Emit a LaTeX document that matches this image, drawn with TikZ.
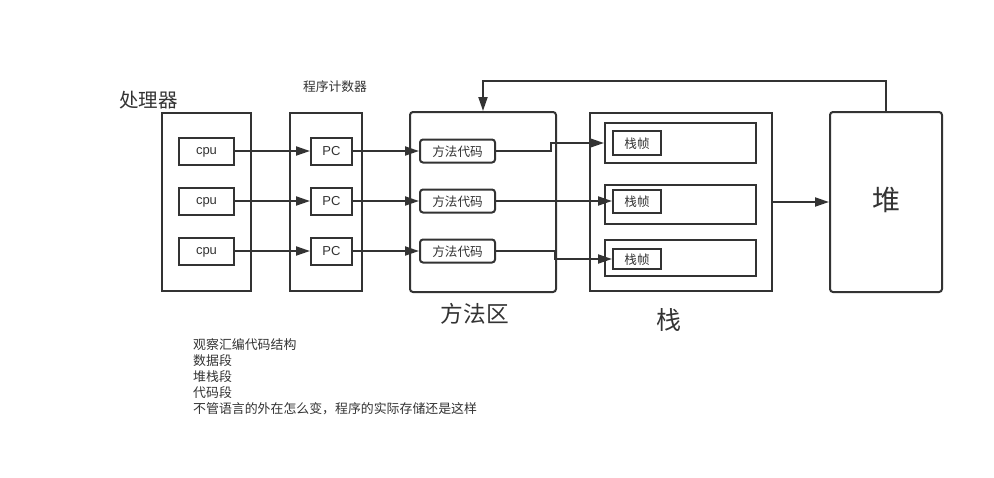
\documentclass[tikz,border=0pt]{standalone}
\usepackage{fontspec}
\setmainfont{Liberation Sans}
\newfontfamily\cjk{Noto Sans CJK SC}
\usetikzlibrary{arrows.meta}
\definecolor{ln}{HTML}{333333}
\tikzset{
  box/.style={draw=ln, line width=2pt, rectangle, inner sep=0pt},
  rbox/.style={box, rounded corners=3pt},
  arr/.style={draw=ln, line width=2pt, -{Triangle[length=14pt,width=9pt]}},
  lbl/.style={inner sep=0pt, text=ln},
  lat/.style={font=\fontsize{13}{13}\selectfont, text=ln, text depth=0pt},
  cjks/.style={font=\cjk\fontsize{12.6}{12.6}\selectfont, text=ln, text depth=0pt},
}
\begin{document}
\begin{tikzpicture}[x=1pt,y=-1pt]
\useasboundingbox (0,0) rectangle (994,477);
% outer boxes
\node[box, minimum width=89pt, minimum height=178pt] (proc) at (206.5,202) {};
\node[box, minimum width=72pt, minimum height=178pt] (pcb) at (326,202) {};
\node[rbox, minimum width=146pt, minimum height=180pt] (ma) at (483,202) {};
\node[box, minimum width=182pt, minimum height=178pt] (st) at (681,202) {};
\node[rbox, minimum width=112pt, minimum height=180pt] (heap) at (886,202) {};
% cpu / PC / method code
\foreach \i/\y in {1/151,2/201,3/251}{
  \node[box, lat, minimum width=55pt, minimum height=27pt] (c\i) at (206.5,\y) {cpu};
  \node[box, lat, minimum width=41pt, minimum height=27pt] (p\i) at (331.5,\y) {PC};
  \node[rbox, cjks, minimum width=75pt, minimum height=23pt] (m\i) at (457.5,\y) {方法代码};
}
% frames
\node[box, minimum width=151pt, minimum height=40pt] (f1) at (680.5,143) {};
\node[box, minimum width=151pt, minimum height=39pt] (f2) at (680.5,204.5) {};
\node[box, minimum width=151pt, minimum height=36pt] (f3) at (680.5,258) {};
\node[box, cjks, minimum width=48pt, minimum height=24pt] (s1) at (637,143) {栈帧};
\node[box, cjks, minimum width=48pt, minimum height=23pt] (s2) at (637,201) {栈帧};
\node[box, cjks, minimum width=48pt, minimum height=20pt] (s3) at (637,259) {栈帧};
% labels
\node[lbl, font=\cjk\fontsize{19.5}{19.5}\selectfont] (lproc) at (148.5,100) {处理器};
\node[lbl, font=\cjk\fontsize{12.8}{12.8}\selectfont] (lpc) at (335,87) {程序计数器};
\node[lbl, font=\cjk\fontsize{22.7}{22.7}\selectfont] (lma) at (475,314) {方法区};
\node[lbl, font=\cjk\fontsize{25}{25}\selectfont] (lst) at (669,320) {栈};
\node[lbl, font=\cjk\fontsize{28}{28}\selectfont] (lheap) at (886,200) {堆};
\node[lbl, anchor=north west, align=left, font=\cjk\fontsize{12.9}{16}\selectfont] (notes) at (193,338)
 {观察汇编代码结构\\数据段\\堆栈段\\代码段\\不管语言的外在怎么变，程序的实际存储还是这样};
% arrows
\foreach \i in {1,2,3}{
  \draw[arr] (c\i.east) -- (p\i.west);
  \draw[arr] (p\i.east) -- (m\i.west);
}
\draw[arr] (m1.east) -- ++(55,0) |- (f1.west);
\draw[arr] (m2.east) -- (s2.west);
\draw[arr] (m3.east) -- ++(59,0) |- (s3.west);
\draw[arr] (st.east) -- (heap.west);
\draw[arr] (heap.north) -- ++(0,-30) -| (ma.north);
\end{tikzpicture}
\end{document}
